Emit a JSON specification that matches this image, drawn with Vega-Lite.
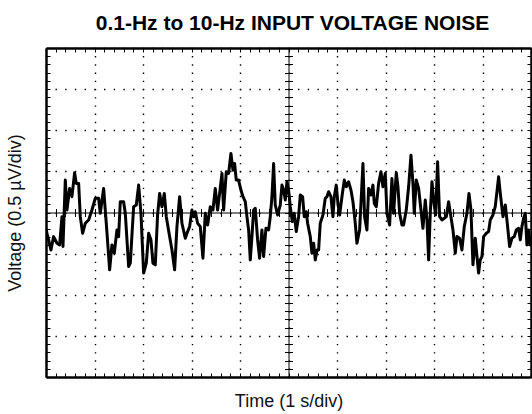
{
  "$schema": "https://vega.github.io/schema/vega-lite/v6.json",
  "width": 485,
  "height": 329,
  "autosize": "none",
  "padding": {"left": 46, "top": 48, "right": 1, "bottom": 37},
  "background": "white",
  "config": {"view": {"stroke": null}, "font": "Liberation Sans"},
  "title": {"text": "0.1-Hz to 10-Hz INPUT VOLTAGE NOISE", "font": "Liberation Sans", "fontSize": 21, "fontWeight": "bold", "color": "black", "anchor": "middle", "offset": 14, "dx": 4},
  "data": {"values": [
    {"t":0,"v":-0.2},{"t":0.02,"v":-0.253},{"t":0.054,"v":-0.333},{"t":0.102,"v":-0.455},{"t":0.157,"v":-0.293},{"t":0.226,"v":-0.374},{"t":0.281,"v":-0.394},{"t":0.329,"v":-0.051},{"t":0.35,"v":-0.414},{"t":0.398,"v":0.394},{"t":0.432,"v":0.03},{"t":0.487,"v":0.293},{"t":0.535,"v":0.192},{"t":0.59,"v":0.483},{"t":0.624,"v":0.354},{"t":0.673,"v":0.354},{"t":0.707,"v":-0.051},{"t":0.755,"v":-0.253},{"t":0.81,"v":-0.131},{"t":0.879,"v":-0.091},{"t":0.947,"v":0.03},{"t":1.016,"v":0.172},{"t":1.085,"v":0.172},{"t":1.119,"v":-0.01},{"t":1.188,"v":0.293},{"t":1.243,"v":-0.131},{"t":1.312,"v":-0.697},{"t":1.36,"v":-0.394},{"t":1.408,"v":-0.495},{"t":1.463,"v":-0.212},{"t":1.497,"v":-0.293},{"t":1.532,"v":0.131},{"t":1.6,"v":0.131},{"t":1.635,"v":-0.01},{"t":1.704,"v":-0.657},{"t":1.738,"v":-0.616},{"t":1.807,"v":0.071},{"t":1.862,"v":0.091},{"t":1.91,"v":0.333},{"t":1.958,"v":-0.01},{"t":2.013,"v":-0.737},{"t":2.068,"v":-0.616},{"t":2.116,"v":-0.253},{"t":2.164,"v":-0.333},{"t":2.205,"v":-0.616},{"t":2.253,"v":-0.636},{"t":2.301,"v":-0.03},{"t":2.343,"v":0.232},{"t":2.391,"v":0.071},{"t":2.439,"v":0.232},{"t":2.48,"v":-0.051},{"t":2.549,"v":-0.293},{"t":2.597,"v":-0.455},{"t":2.652,"v":-0.697},{"t":2.7,"v":-0.172},{"t":2.755,"v":0.192},{"t":2.803,"v":-0.131},{"t":2.872,"v":-0.313},{"t":2.92,"v":-0.232},{"t":2.961,"v":-0.172},{"t":3.009,"v":0.03},{"t":3.044,"v":-0.051},{"t":3.078,"v":0.01},{"t":3.126,"v":-0.131},
    {"t":3.181,"v":-0.172},{"t":3.236,"v":-0.556},{"t":3.284,"v":-0.01},{"t":3.332,"v":-0.152},{"t":3.387,"v":0.071},{"t":3.442,"v":0.03},{"t":3.49,"v":0.293},{"t":3.538,"v":0.03},{"t":3.58,"v":0.232},{"t":3.628,"v":0.475},{"t":3.662,"v":0.03},{"t":3.717,"v":0.495},{"t":3.765,"v":0.475},{"t":3.813,"v":0.717},{"t":3.855,"v":0.515},{"t":3.889,"v":0.596},{"t":3.923,"v":0.394},{"t":3.971,"v":0.394},{"t":4.019,"v":0.273},{"t":4.061,"v":0.192},{"t":4.109,"v":0.131},{"t":4.143,"v":-0.051},{"t":4.178,"v":-0.212},{"t":4.212,"v":-0.576},{"t":4.246,"v":-0.293},{"t":4.281,"v":0.03},{"t":4.315,"v":0.051},{"t":4.363,"v":-0.333},{"t":4.404,"v":-0.556},{"t":4.452,"v":-0.212},{"t":4.487,"v":-0.535},{"t":4.535,"v":-0.192},{"t":4.59,"v":-0.212},{"t":4.624,"v":-0.051},{"t":4.659,"v":0.192},{"t":4.693,"v":0.596},{"t":4.727,"v":0.091},{"t":4.775,"v":-0.03},{"t":4.83,"v":0.091},{"t":4.865,"v":0.333},{"t":4.899,"v":0.273},{"t":4.934,"v":0.152},{"t":4.968,"v":0.374},{"t":5.002,"v":0.273},{"t":5.037,"v":0.071},{"t":5.078,"v":-0.111},{"t":5.119,"v":-0.01},{"t":5.16,"v":-0.232},{"t":5.208,"v":-0.051},{"t":5.243,"v":0.212},{"t":5.291,"v":0.192},{"t":5.325,"v":-0.051},{"t":5.367,"v":0.01},{"t":5.394,"v":-0.131},{"t":5.449,"v":-0.293},{"t":5.483,"v":-0.495},{"t":5.518,"v":-0.374},{"t":5.552,"v":-0.576},{"t":5.587,"v":-0.455},{"t":5.621,"v":-0.455},{"t":5.655,"v":-0.131},{"t":5.71,"v":-0.03},{"t":5.758,"v":0.172},{"t":5.793,"v":0.192},{"t":5.827,"v":0.253},{"t":5.875,"v":0.192},{"t":5.916,"v":-0.051},{"t":5.944,"v":0.192},{"t":5.985,"v":0.333},{"t":6.019,"v":0.111},{"t":6.054,"v":-0.03},{"t":6.102,"v":0.192},{"t":6.15,"v":0.394},{"t":6.191,"v":0.313},{"t":6.239,"v":0.374},{"t":6.288,"v":0.273},{"t":6.329,"v":0.131},{"t":6.377,"v":-0.131},{"t":6.411,"v":-0.374},{"t":6.466,"v":-0.212},{"t":6.501,"v":0.192},{"t":6.535,"v":0.596},{"t":6.569,"v":-0.051},{"t":6.617,"v":-0.212},{"t":6.652,"v":0.293},{"t":6.7,"v":0.212},{"t":6.741,"v":0.333},{"t":6.769,"v":0.111},{"t":6.81,"v":0.071},{"t":6.858,"v":0.354},
    {"t":6.906,"v":0.495},{"t":6.947,"v":0.313},{"t":6.995,"v":0.475},{"t":7.03,"v":-0.01},{"t":7.085,"v":-0.152},{"t":7.133,"v":0.414},{"t":7.167,"v":-0.01},{"t":7.222,"v":0.483},{"t":7.257,"v":0.313},{"t":7.291,"v":-0.01},{"t":7.339,"v":-0.152},{"t":7.373,"v":-0.152},{"t":7.428,"v":0.03},{"t":7.477,"v":0.313},{"t":7.525,"v":0.697},{"t":7.566,"v":0.354},{"t":7.593,"v":-0.01},{"t":7.635,"v":0.394},{"t":7.683,"v":0.293},{"t":7.731,"v":0.03},{"t":7.772,"v":-0.192},{"t":7.82,"v":0.152},{"t":7.855,"v":-0.091},{"t":7.889,"v":-0.576},{"t":7.923,"v":-0.01},{"t":7.958,"v":0.374},{"t":7.992,"v":0.152},{"t":8.033,"v":-0.03},{"t":8.074,"v":0.616},{"t":8.116,"v":-0.051},{"t":8.164,"v":-0.091},{"t":8.212,"v":-0.071},{"t":8.253,"v":-0.051},{"t":8.301,"v":0.131},{"t":8.349,"v":-0.051},{"t":8.391,"v":-0.212},{"t":8.439,"v":-0.495},{"t":8.473,"v":-0.293},{"t":8.528,"v":-0.313},{"t":8.576,"v":-0.455},{"t":8.624,"v":-0.172},{"t":8.679,"v":-0.01},{"t":8.721,"v":0.232},{"t":8.762,"v":0.03},{"t":8.803,"v":-0.636},{"t":8.851,"v":-0.313},{"t":8.886,"v":-0.535},{"t":8.92,"v":-0.737},{"t":8.954,"v":-0.576},{"t":8.989,"v":-0.535},{"t":9.023,"v":-0.293},{"t":9.078,"v":-0.253},{"t":9.126,"v":-0.232},{"t":9.16,"v":-0.091},{"t":9.215,"v":-0.03},{"t":9.263,"v":0.071},{"t":9.298,"v":0.253},{"t":9.332,"v":0.434},{"t":9.367,"v":0.232},{"t":9.422,"v":-0.051},{"t":9.47,"v":0.091},{"t":9.504,"v":-0.091},{"t":9.559,"v":-0.414},{"t":9.607,"v":-0.313},{"t":9.655,"v":-0.293},{"t":9.697,"v":-0.212},{"t":9.745,"v":-0.192},{"t":9.779,"v":-0.333},{"t":9.813,"v":-0.172},{"t":9.848,"v":-0.071},{"t":9.882,"v":-0.01},{"t":9.916,"v":-0.394},{"t":9.951,"v":-0.212},{"t":9.985,"v":-0.394},{"t":10,"v":-0.3}
  ]},
  "resolve": {"axis": {"x": "independent", "y": "independent"}},
  "layer": [
    {
      "mark": {"type": "point", "opacity": 0, "size": 0},
      "encoding": {
        "x": {"field": "t", "type": "quantitative", "scale": {"domain": [0, 10], "nice": false, "zero": false},
          "axis": {"orient": "top", "tickCount": 10, "labels": false, "ticks": false, "domain": false, "title": null, "grid": true, "gridColor": "black", "gridWidth": 1.4, "gridDash": [1.4, 6.825], "gridDashOffset": 0.7, "gridOpacity": 1, "zindex": 0}},
        "y": {"field": "v", "type": "quantitative", "scale": {"domain": [-2, 2], "nice": false, "zero": false},
          "axis": {"orient": "right", "tickCount": 8, "labels": false, "ticks": false, "domain": false, "title": null, "grid": true, "gridColor": "black", "gridWidth": 1.4, "gridDash": [1.4, 8.3], "gridDashOffset": 0.7, "gridOpacity": 1, "zindex": 0}}
      }
    },
    {
      "mark": {"type": "point", "opacity": 0, "size": 0},
      "encoding": {
        "x": {"field": "t", "type": "quantitative",
          "axis": {"orient": "bottom", "offset": -164.5, "tickCount": 50, "labels": false, "tickSize": 4, "tickColor": "black", "tickWidth": 1, "domain": true, "domainColor": "black", "domainWidth": 1, "title": null, "grid": false, "zindex": 0}},
        "y": {"field": "v", "type": "quantitative",
          "axis": {"orient": "left", "offset": -242.5, "tickCount": 40, "labels": false, "tickSize": 4, "tickColor": "black", "tickWidth": 1, "domain": true, "domainColor": "black", "domainWidth": 1, "title": null, "grid": false, "zindex": 0}}
      }
    },
    {
      "mark": {"type": "point", "opacity": 0, "size": 0},
      "encoding": {
        "x": {"field": "t", "type": "quantitative",
          "axis": {"orient": "bottom", "offset": -164.5, "tickCount": 50, "labels": false, "tickSize": -4, "tickColor": "black", "tickWidth": 1, "domain": false, "title": null, "grid": false, "zindex": 0}},
        "y": {"field": "v", "type": "quantitative",
          "axis": {"orient": "left", "offset": -242.5, "tickCount": 40, "labels": false, "tickSize": -4, "tickColor": "black", "tickWidth": 1, "domain": false, "title": null, "grid": false, "zindex": 0}}
      }
    },
    {
      "mark": {"type": "point", "opacity": 0, "size": 0},
      "encoding": {
        "x": {"field": "t", "type": "quantitative",
          "axis": {"orient": "top", "tickCount": 50, "labels": false, "tickSize": -4, "tickColor": "black", "tickWidth": 1, "domain": true, "domainColor": "black", "domainWidth": 2.5, "title": null, "grid": false, "zindex": 1}},
        "y": {"field": "v", "type": "quantitative",
          "axis": {"orient": "right", "tickCount": 40, "labels": false, "tickSize": -4, "tickColor": "black", "tickWidth": 1, "domain": true, "domainColor": "black", "domainWidth": 2.5, "title": null, "grid": false, "zindex": 1}}
      }
    },
    {
      "mark": {"type": "line", "color": "black", "strokeWidth": 3, "strokeJoin": "round", "clip": true},
      "encoding": {
        "x": {"field": "t", "type": "quantitative",
          "axis": {"orient": "bottom", "tickCount": 50, "labels": false, "tickSize": -4, "tickColor": "black", "tickWidth": 1, "domain": true, "domainColor": "black", "domainWidth": 2.5, "grid": false, "zindex": 1,
            "title": "Time (1 s/div)", "titleFont": "Liberation Sans", "titleFontSize": 18, "titleFontWeight": "normal", "titleColor": "#111", "titlePadding": 15}},
        "y": {"field": "v", "type": "quantitative",
          "axis": {"orient": "left", "tickCount": 40, "labels": false, "tickSize": -4, "tickColor": "black", "tickWidth": 1, "domain": true, "domainColor": "black", "domainWidth": 2.5, "grid": false, "zindex": 1,
            "title": "Voltage (0.5 µV/div)", "titleFont": "Liberation Sans", "titleFontSize": 18, "titleFontWeight": "normal", "titleColor": "#111", "titlePadding": 21}}
      }
    }
  ]
}
